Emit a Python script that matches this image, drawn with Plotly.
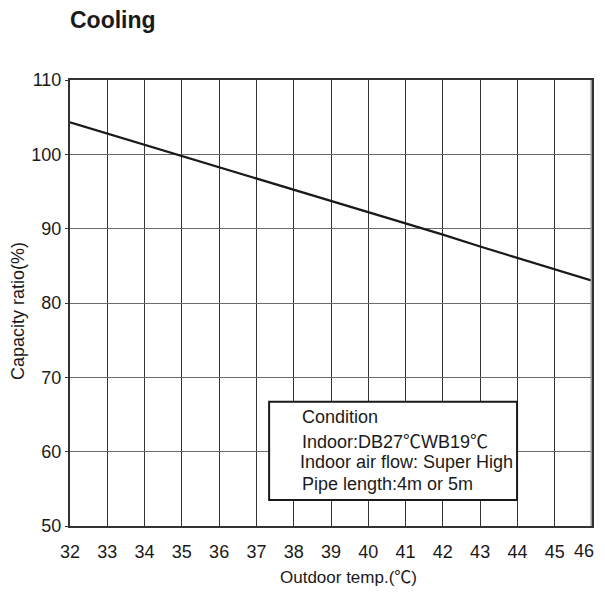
import plotly.graph_objects as go

temps = [32, 33, 34, 35, 36, 37, 38, 39, 40, 41, 42, 43, 44, 45, 46]
capacity = [104.3, 102.8, 101.3, 99.8, 98.3, 96.8, 95.2, 93.7, 92.2, 90.7, 89.2, 87.6, 86.1, 84.6, 83.0]
x_ticks = list(range(32, 47))
y_ticks = [50, 60, 70, 80, 90, 100, 110]
C = '<span style="font-family:\'Noto Sans CJK SC\'">℃</span>'
condition_lines = ["Condition", "Indoor:DB27" + C + "WB19" + C, "Indoor air flow: Super High", "Pipe length:4m or 5m"]

FONT = "Liberation Sans, Arial, sans-serif"
INK = "#1a1a1a"

# page has an 8px body margin, so the figure is kept 8px smaller than the window
W, H = 597, 585
L, R, T, B = 62, 13, 72, 67
PW, PH = W - L - R, H - T - B

fig = go.Figure()
fig.add_trace(go.Scatter(x=temps, y=capacity, mode="lines",
                         line=dict(color=INK, width=2.2), showlegend=False,
                         hoverinfo="skip"))

# right border drawn lighter like the reference
fig.add_shape(type="line", xref="x", yref="paper", x0=46, x1=46, y0=0, y1=1,
              line=dict(color="#9a9a9a", width=3), layer="above")

fig.add_shape(type="rect", xref="x", yref="y", x0=37.34, x1=43.99, y0=53.5, y1=66.7,
              line=dict(color=INK, width=2), fillcolor="white", layer="above")

line_y = [64.6, 61.6, 58.6, 55.7]
line_x = [38.18, 38.18, 38.12, 38.18]
for t, xx, yy in zip(condition_lines, line_x, line_y):
    fig.add_annotation(x=xx, y=yy, xref="x", yref="y", text=t, showarrow=False,
                       xanchor="left", yanchor="middle",
                       font=dict(family=FONT, size=18, color=INK))

# last x tick label is pulled slightly inward so it stays inside the window
last_tick = x_ticks[-1]
tick_text = [str(v) for v in x_ticks[:-1]] + [""]
fig.add_annotation(x=last_tick, y=-(543 - 518) / PH, xref="x", yref="paper",
                   text=str(last_tick), showarrow=False, xanchor="right", yanchor="middle",
                   xshift=4, font=dict(family=FONT, size=18, color=INK))

# axis titles placed as in the reference
fig.add_annotation(x=(340 - L) / PW, y=-(567 - 518) / PH, xref="paper", yref="paper",
                   text="Outdoor temp.(" + C + ")", showarrow=False,
                   xanchor="center", yanchor="middle",
                   font=dict(family=FONT, size=17, color=INK))
fig.add_annotation(x=-(L - 10) / PW, y=(518 - 303) / PH, xref="paper", yref="paper",
                   text="Capacity ratio(%)", showarrow=False, textangle=-90,
                   xanchor="center", yanchor="middle",
                   font=dict(family=FONT, size=18, color=INK))

fig.update_layout(
    width=W, height=H,
    margin=dict(l=L, r=R, t=T, b=B, autoexpand=False),
    paper_bgcolor="white", plot_bgcolor="white",
    title=dict(text="<b>Cooling</b>", x=L / W, xanchor="left", y=1 - 12 / H, yanchor="middle",
               automargin=False,
               font=dict(family=FONT, size=23, color=INK)),
    font=dict(family=FONT, size=18, color=INK),
)
fig.update_xaxes(range=[32, 46], tickvals=x_ticks, ticktext=tick_text,
                 showgrid=True, gridcolor="#333333", gridwidth=1,
                 showline=True, linecolor="#333333", linewidth=2, mirror=True,
                 ticks="outside", ticklen=8, tickcolor="rgba(0,0,0,0)",
                 zeroline=False, automargin=False)
fig.update_yaxes(range=[50, 110], tickvals=y_ticks, ticktext=[str(v) for v in y_ticks],
                 showgrid=True, gridcolor="#6a6a6a", gridwidth=1,
                 showline=True, linecolor="#333333", linewidth=2, mirror=True,
                 ticks="outside", ticklen=3, tickcolor="#333333", zeroline=False,
                 automargin=False)

fig.write_html("out.html")
